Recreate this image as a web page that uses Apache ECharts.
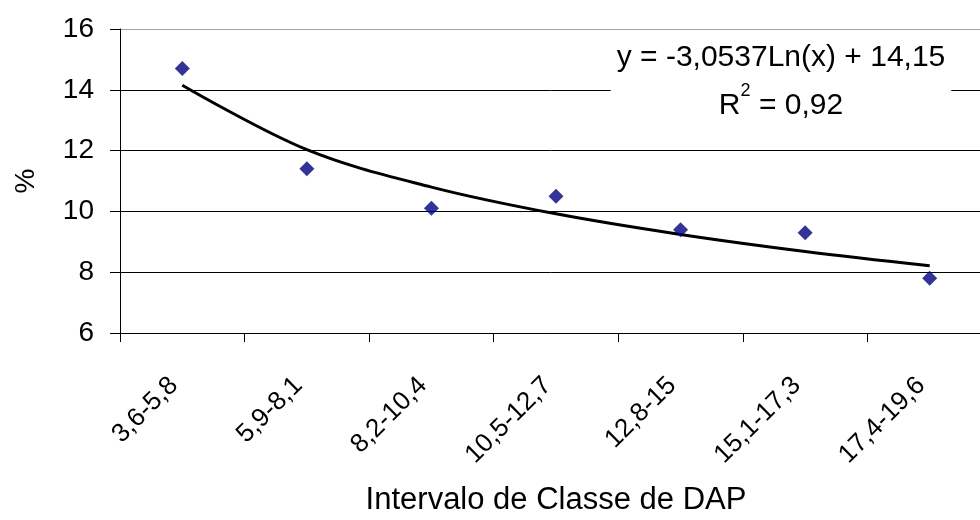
<!DOCTYPE html>
<html>
<head>
<meta charset="utf-8">
<script src="https://cdn.jsdelivr.net/npm/echarts@6/dist/echarts.min.js"></script>
<style>
  html, body { margin: 0; padding: 0; background: #fff; }
  #app { width: 980px; height: 520px; }
</style>
</head>
<body>
<div id="app"></div>
<script>
// classes de DAP
const categories = ['3,6-5,8', '5,9-8,1', '8,2-10,4', '10,5-12,7', '12,8-15', '15,1-17,3', '17,4-19,6'];
// % observado
const observed = [14.7, 11.4, 10.1, 10.5, 9.4, 9.3, 7.8];
// linha de tendencia
const trend = [14.15, 12.03, 10.8, 9.92, 9.24, 8.68, 8.21];
const yTicks = [6, 8, 10, 12, 14, 16];

const myChart = echarts.init(document.getElementById('app'));
const font = 'Liberation Sans, Arial, sans-serif';

const option = {
  animation: false,
  backgroundColor: '#fff',
  // o eixo passa da borda direita, como no original
  grid: { left: 120, width: 872, top: 29, bottom: 187, outerBoundsMode: 'none', containLabel: false },
  xAxis: {
    type: 'category',
    data: categories,
    boundaryGap: true,
    name: 'Intervalo de Classe de DAP',
    nameLocation: 'middle',
    nameGap: 152,
    nameTextStyle: { fontFamily: font, fontSize: 31, color: '#000' },
    axisLine: { lineStyle: { color: '#000', width: 1 } },
    axisTick: { show: true, alignWithLabel: false, length: 9, lineStyle: { color: '#000' } },
    axisLabel: {
      rotate: 45,
      margin: 40,
      padding: [0, 12, 0, 0],
      fontFamily: font,
      fontSize: 26,
      color: '#000'
    },
    splitLine: { show: false }
  },
  yAxis: {
    type: 'value',
    min: yTicks[0],
    max: yTicks[yTicks.length - 1],
    interval: 2,
    name: '%',
    nameLocation: 'middle',
    nameGap: 80,
    nameRotate: 90,
    nameTextStyle: { fontFamily: font, fontSize: 28, color: '#000' },
    axisLine: { show: true, lineStyle: { color: '#000', width: 1 } },
    axisTick: { show: true, length: 10, lineStyle: { color: '#000' } },
    axisLabel: { fontFamily: font, fontSize: 28, color: '#000', margin: 26 },
    splitLine: {
      show: true,
      lineStyle: { color: ['#000', '#000', '#000', '#000', '#000', '#a0a0a0'], width: 1 }
    }
  },
  series: [
    {
      name: 'tendencia',
      type: 'line',
      data: trend,
      smooth: 0.35,
      symbol: 'none',
      lineStyle: { color: '#000', width: 3 },
      z: 2
    },
    {
      name: '%',
      type: 'scatter',
      data: observed,
      symbol: 'diamond',
      symbolSize: 15,
      itemStyle: { color: '#000080' },
      z: 3
    }
  ],
  graphic: [
    {
      type: 'text',
      z: 10,
      x: 781,
      y: 30,
      style: {
        text: '{a|y = -3,0537Ln(x) + 14,15}\n{a|R}{s|2}{a| = 0,92}',
        align: 'center',
        verticalAlign: 'top',
        backgroundColor: '#fff',
        padding: [4, 6, 4, 6],
        rich: {
          a: { fontFamily: font, fontSize: 30, color: '#000', lineHeight: 48, align: 'center' },
          s: { fontFamily: font, fontSize: 18, color: '#000', verticalAlign: 'top', lineHeight: 48, padding: [0, 0, 16, 0] }
        }
      }
    }
  ]
};

myChart.setOption(option);
</script>
</body>
</html>
